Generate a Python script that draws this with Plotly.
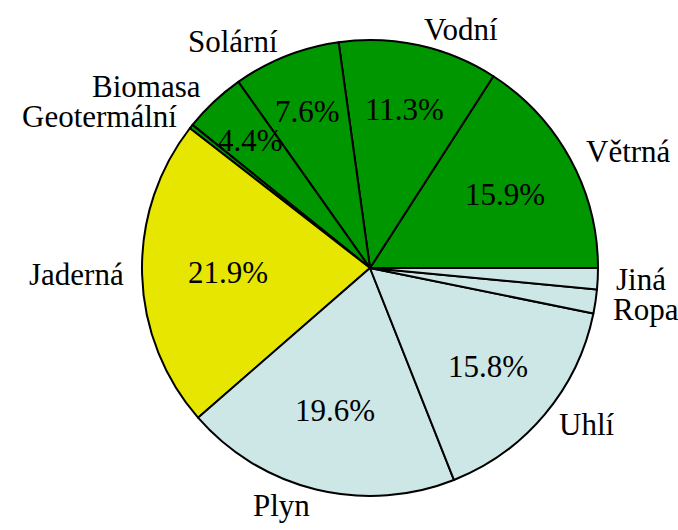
import math

import plotly.graph_objects as go

SOURCES = ["Větrná", "Vodní", "Solární", "Biomasa", "Geotermální",
           "Jaderná", "Plyn", "Uhlí", "Ropa", "Jiná"]
SHARES = [15.9, 11.3, 7.6, 4.4, 0.3, 21.9, 19.6, 15.8, 1.7, 1.5]
GROUP = ["obnovitelné"] * 5 + ["jaderné"] + ["fosilní"] * 4
SHOW_PERCENT = [True, True, True, True, False, True, True, True, False, False]

GROUP_COLORS = {"obnovitelné": "#009600", "jaderné": "#e6e600", "fosilní": "#cde6e6"}
FONT = "Liberation Serif, DejaVu Serif, serif"
FONT_SIZE = 31

W, H = 678, 530
CX, CY, R = 370, 268, 228  # pie centre and radius in pixels
LABEL_DIST = 1.07
LABEL_GAP = 30  # minimal vertical distance between neighbouring labels, px

total = sum(SHARES)
colors = [GROUP_COLORS[g] for g in GROUP]

fig = go.Figure()
fig.add_trace(
    go.Pie(
        labels=SOURCES,
        values=SHARES,
        sort=False,
        direction="counterclockwise",
        # plotly puts the first slice clockwise of `rotation` when going ccw,
        # so shift by its size to make it start at 3 o'clock
        rotation=90 - 360 * SHARES[0] / total,
        domain={"x": [(CX - R) / W, (CX + R) / W], "y": [(H - CY - R) / H, (H - CY + R) / H]},
        marker={"colors": colors, "line": {"color": "black", "width": 2}},
        textinfo="none",
        showlegend=False,
        hoverinfo="label+percent",
    )
)

labels = []
start = 0.0
for name, share, show in zip(SOURCES, SHARES, SHOW_PERCENT):
    frac = share / total
    mid = 2 * math.pi * (start + frac / 2)
    start += frac
    cos_a, sin_a = math.cos(mid), math.sin(mid)
    labels.append({
        "name": name,
        "x": CX + LABEL_DIST * R * cos_a,
        "dy": LABEL_DIST * R * sin_a,  # up from centre, px
        "right": cos_a > 0,
    })
    if show:
        # narrow slices push their percentage further out
        pct_dist = 0.6 + 0.8 * (0.25 - frac)
        fig.add_annotation(
            x=(CX + pct_dist * R * cos_a) / W,
            y=(H - CY + pct_dist * R * sin_a) / H,
            xref="paper",
            yref="paper",
            text=f"{100 * frac:.1f}%",
            showarrow=False,
            xanchor="center",
            yanchor="middle",
        )

# push crowded labels away from the horizontal midline
for right in (True, False):
    for upper in (True, False):
        group = [lb for lb in labels if lb["right"] == right and (lb["dy"] >= 0) == upper]
        group.sort(key=lambda lb: abs(lb["dy"]))
        for prev, cur in zip(group, group[1:]):
            if abs(cur["dy"]) - abs(prev["dy"]) < LABEL_GAP:
                step = abs(prev["dy"]) + LABEL_GAP
                cur["dy"] = step if upper else -step

for lb in labels:
    fig.add_annotation(
        x=lb["x"] / W,
        y=(H - CY + lb["dy"]) / H,
        xref="paper",
        yref="paper",
        text=lb["name"],
        showarrow=False,
        xanchor="left" if lb["right"] else "right",
        yanchor="middle",
    )

fig.update_layout(
    width=W,
    height=H,
    margin={"l": 0, "r": 0, "t": 0, "b": 0},
    paper_bgcolor="white",
    plot_bgcolor="white",
    font={"family": FONT, "size": FONT_SIZE, "color": "black"},
)
# drop the browser's default 8px body margin so the figure fills the window
fig.write_html(
    "out.html",
    config={"displayModeBar": False},
    post_script="document.body.style.margin = '0';",
)
